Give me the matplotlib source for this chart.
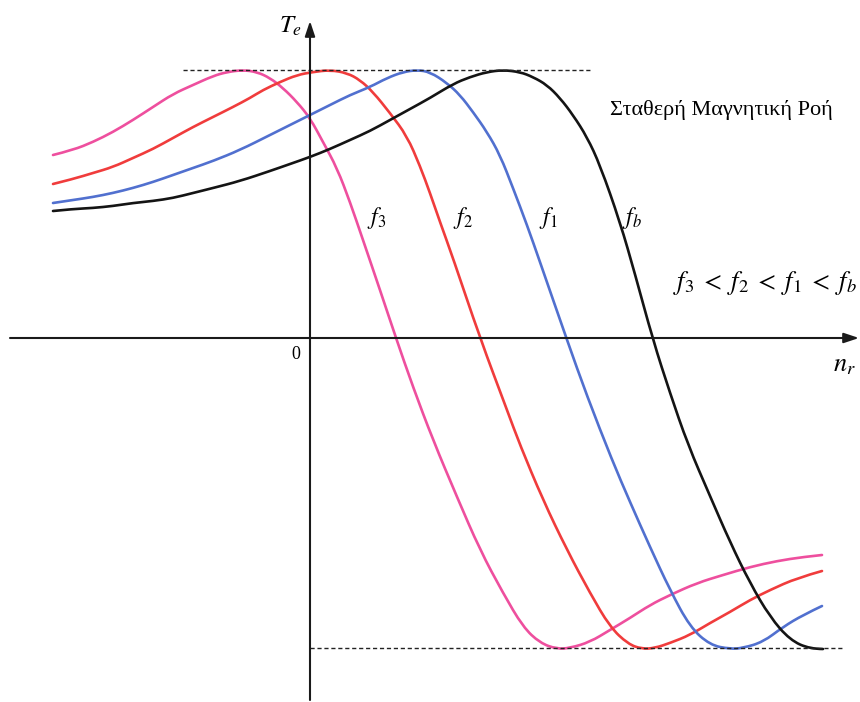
import matplotlib.pyplot as plt
from matplotlib.path import Path
from matplotlib.patches import PathPatch

plt.rcParams['font.family'] = ['Liberation Serif', 'DejaVu Serif']
plt.rcParams['mathtext.fontset'] = 'stix'

# torque-speed characteristics (n_r, T_e) for each supply frequency
n_f3 = [-2.57, -2.37, -2.17, -1.97, -1.77, -1.57, -1.37, -1.17, -0.97, -0.83, -0.67,
        -0.53, -0.40, -0.27, -0.13, 0.00, 0.13, 0.27, 0.40, 0.53, 0.70, 0.86, 1.03,
        1.23, 1.47, 1.70, 1.93, 2.13, 2.30, 2.47, 2.60, 2.80, 3.00, 3.20, 3.40, 3.60,
        3.87, 4.13, 4.40, 4.67, 4.93, 5.12]
T_f3 = [1.83, 1.88, 1.96, 2.06, 2.18, 2.31, 2.44, 2.53, 2.62, 2.66, 2.68,
        2.66, 2.60, 2.50, 2.36, 2.20, 1.96, 1.70, 1.36, 0.98, 0.48, 0.00, -0.49,
        -1.02, -1.59, -2.12, -2.55, -2.89, -3.05, -3.11, -3.10, -3.04, -2.92, -2.80, -2.67, -2.57,
        -2.45, -2.37, -2.29, -2.23, -2.19, -2.17]

n_f2 = [-2.57, -2.37, -2.17, -1.97, -1.77, -1.57, -1.37, -1.17, -0.97, -0.77, -0.60,
        -0.47, -0.30, -0.13, 0.03, 0.20, 0.37, 0.50, 0.63, 0.80, 0.97, 1.10, 1.20,
        1.30, 1.43, 1.70, 1.97, 2.10, 2.33, 2.57, 2.80, 3.00, 3.18, 3.32, 3.45, 3.60,
        3.80, 4.00, 4.20, 4.40, 4.60, 4.87, 5.12]
T_f2 = [1.54, 1.59, 1.65, 1.71, 1.80, 1.89, 2.00, 2.11, 2.21, 2.31, 2.40,
        2.48, 2.56, 2.63, 2.66, 2.68, 2.65, 2.58, 2.46, 2.25, 2.02, 1.72, 1.45,
        1.16, 0.80, 0.00, -0.72, -1.07, -1.62, -2.12, -2.55, -2.89, -3.06, -3.11, -3.10, -3.05,
        -2.97, -2.85, -2.74, -2.62, -2.52, -2.40, -2.33]

n_f1 = [-2.57, -2.37, -2.17, -1.97, -1.77, -1.57, -1.37, -1.17, -0.97, -0.70, -0.40,
        -0.20, 0.00, 0.20, 0.40, 0.60, 0.77, 0.93, 1.07, 1.20, 1.37, 1.50, 1.63,
        1.77, 1.90, 2.03, 2.17, 2.30, 2.57, 2.77, 3.02, 3.20, 3.40, 3.60, 3.80, 4.00,
        4.20, 4.33, 4.53, 4.73, 4.93, 5.12]
T_f1 = [1.35, 1.38, 1.41, 1.45, 1.50, 1.56, 1.63, 1.70, 1.77, 1.88, 2.03,
        2.13, 2.23, 2.33, 2.43, 2.51, 2.60, 2.66, 2.68, 2.66, 2.55, 2.43, 2.26,
        2.06, 1.83, 1.50, 1.13, 0.76, -0.02, -0.58, -1.22, -1.64, -2.09, -2.52, -2.89, -3.07,
        -3.11, -3.10, -3.04, -2.89, -2.77, -2.68]

n_fb = [-2.57, -2.37, -2.17, -1.97, -1.77, -1.57, -1.37, -1.17, -0.97, -0.70, -0.40,
        -0.20, 0.00, 0.20, 0.40, 0.60, 0.80, 1.00, 1.20, 1.43, 1.60, 1.77, 1.93,
        2.10, 2.23, 2.37, 2.50, 2.63, 2.77, 2.90, 3.10, 3.25, 3.43, 3.60, 3.78, 4.00,
        4.20, 4.40, 4.60, 4.80, 5.00, 5.13]
T_fb = [1.27, 1.29, 1.30, 1.32, 1.35, 1.37, 1.40, 1.45, 1.50, 1.57, 1.67,
        1.74, 1.81, 1.89, 1.98, 2.07, 2.18, 2.29, 2.40, 2.54, 2.61, 2.66, 2.68,
        2.66, 2.61, 2.53, 2.40, 2.23, 2.01, 1.73, 1.16, 0.64, -0.02, -0.55, -1.07, -1.58,
        -2.04, -2.45, -2.79, -3.02, -3.11, -3.11]

T_max = 2.68
T_min = -3.10

curves = [
    (n_f3, T_f3, '#ee4f9e', r'$f_3$', 0.67),
    (n_f2, T_f2, '#f03c3c', r'$f_2$', 1.53),
    (n_f1, T_f1, '#5170cf', r'$f_1$', 2.38),
    (n_fb, T_fb, '#141414', r'$f_b$', 3.22),
]


def smooth_path(xs, ys):
    # quadratic bezier chain: read points act as controls, midpoints lie on the curve
    pts = list(zip(xs, ys))
    verts = [pts[0]]
    codes = [Path.MOVETO]
    for i in range(1, len(pts) - 1):
        mid = ((pts[i][0] + pts[i + 1][0]) / 2, (pts[i][1] + pts[i + 1][1]) / 2)
        if i == len(pts) - 2:
            mid = pts[-1]
        verts += [pts[i], mid]
        codes += [Path.CURVE3, Path.CURVE3]
    return Path(verts, codes)


fig = plt.figure(figsize=(8.6, 7.02), dpi=100)
ax = fig.add_axes([0, 0, 1, 1])
ax.set_xlim(-3.10, 5.50)
ax.set_ylim(-3.64, 3.38)
ax.axis('off')

# axes with arrow heads
arrow = dict(arrowstyle='-|>,head_length=0.9,head_width=0.3',
             color='#1a1a1a', lw=1.5, shrinkA=0, shrinkB=0)
ax.annotate('', xy=(5.49, 0), xytext=(-3.00, 0), arrowprops=arrow)
ax.annotate('', xy=(0, 3.17), xytext=(0, -3.62), arrowprops=arrow)

# max / min torque levels
ax.plot([-1.27, 2.82], [T_max, T_max], ls=(0, (3, 2)), color='#222222', lw=1.0)
ax.plot([0.0, 5.33], [T_min, T_min], ls=(0, (3, 2)), color='#222222', lw=1.0)

for n, T, c, lab, xl in curves:
    ax.add_patch(PathPatch(smooth_path(n, T), fill=False, edgecolor=c, lw=1.9,
                           capstyle='round', joinstyle='round'))
    ax.text(xl, 1.20, lab, fontsize=17, ha='center', va='center')

ax.text(-0.19, 3.12, r'$T_e$', fontsize=18, ha='center', va='center')
ax.text(5.34, -0.28, r'$n_r$', fontsize=19, ha='center', va='center')
ax.text(-0.14, -0.17, '0', fontsize=13, ha='center', va='center')
ax.text(4.55, 0.55, r'$f_3 \;<\; f_2 \;<\; f_1 \;<\; f_b$', fontsize=19,
        ha='center', va='center')
ax.text(4.11, 2.28, 'Σταθερή Μαγνητική Ροή', fontsize=16, ha='center', va='center')

fig.savefig('out.png', dpi=100, facecolor='white')
